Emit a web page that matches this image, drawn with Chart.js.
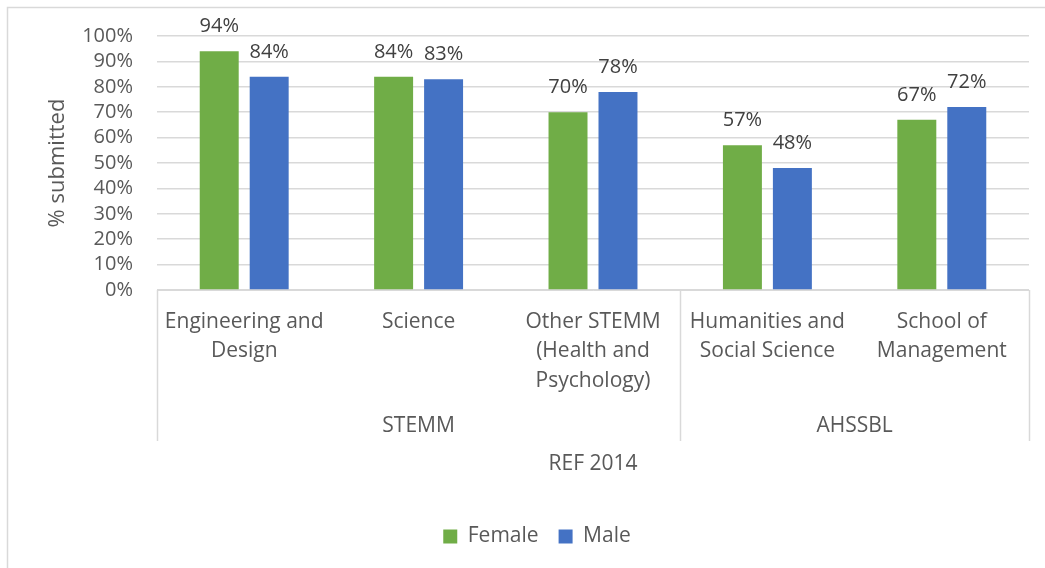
<!DOCTYPE html>
<html>
<head>
<meta charset="utf-8">
<script src="https://cdn.jsdelivr.net/npm/chart.js@4"></script>
<style>
  html, body { margin: 0; padding: 0; background: #fff; }
  #wrap { width: 1045px; height: 568px; position: relative; }
</style>
</head>
<body>
<div id="wrap"><canvas id="refChart" width="1045" height="568"></canvas></div>
<script>
// chart data
const categories = [
    ['Engineering and', 'Design'],
    ['Science'],
    ['Other STEMM', '(Health and', 'Psychology)'],
    ['Humanities and', 'Social Science'],
    ['School of', 'Management']
];
const groupNames = ['STEMM', 'AHSSBL'];
const groupSizes = [3, 2];
const female = [94, 84, 70, 57, 67];
const male = [84, 83, 78, 48, 72];
const yTicks = [0, 10, 20, 30, 40, 50, 60, 70, 80, 90, 100];

const FONT = '"Open Sans", "Noto Sans", sans-serif';
const PAD = { left: 45, top: 36, right: 16, bottom: 11 };

document.addEventListener('DOMContentLoaded', function() {
    const ctx = document.getElementById('refChart').getContext('2d');

    // outer frame of the chart
    const frame = {
        id: 'frame',
        beforeDraw(chart) {
            const c = chart.ctx;
            c.save();
            c.strokeStyle = '#d9d9d9';
            c.lineWidth = 1.5;
            c.strokeRect(7.5, 7.5, chart.width + 20, chart.height + 20);
            c.restore();
        }
    };

    // percent labels above the bars
    const valueLabels = {
        id: 'valueLabels',
        afterDatasetsDraw(chart) {
            const c = chart.ctx;
            c.save();
            c.font = '20px ' + FONT;
            c.fillStyle = '#404040';
            c.textAlign = 'center';
            c.textBaseline = 'alphabetic';
            chart.data.datasets.forEach((ds, i) => {
                chart.getDatasetMeta(i).data.forEach((bar, j) => {
                    c.fillText(ds.data[j] + '%', bar.x, bar.y - 19);
                });
            });
            c.restore();
        }
    };

    // two level category axis + axis title
    const groupAxis = {
        id: 'groupAxis',
        afterDraw(chart) {
            const c = chart.ctx;
            const x = chart.scales.x;
            const area = chart.chartArea;
            const lineBottom = 441;
            c.save();
            c.font = '21px ' + FONT;
            c.fillStyle = '#595959';
            c.textAlign = 'center';
            c.textBaseline = 'alphabetic';

            categories.forEach((lines, i) => {
                const cx = x.getPixelForValue(i);
                lines.forEach((txt, k) => {
                    c.fillText(txt, cx, area.bottom + 38 + k * 29.3);
                });
            });

            // group labels and separators
            c.strokeStyle = '#d9d9d9';
            c.lineWidth = 1.5;
            let start = 0;
            const edges = [area.left];
            groupNames.forEach((name, g) => {
                const end = start + groupSizes[g] - 1;
                const left = start === 0 ? area.left :
                    (x.getPixelForValue(start - 1) + x.getPixelForValue(start)) / 2;
                const right = end === categories.length - 1 ? area.right :
                    (x.getPixelForValue(end) + x.getPixelForValue(end + 1)) / 2;
                edges.push(right);
                c.fillText(name, (left + right) / 2, area.bottom + 142);
                start = end + 1;
            });
            edges.forEach(ex => {
                const px = Math.round(ex) + 0.5;
                c.beginPath();
                c.moveTo(px, area.bottom);
                c.lineTo(px, lineBottom);
                c.stroke();
            });

            c.fillText('REF 2014', (area.left + area.right) / 2, area.bottom + 180);
            c.restore();
        }
    };

    new Chart(ctx, {
        type: 'bar',
        data: {
            labels: categories,
            datasets: [
                { label: 'Female', data: female, backgroundColor: '#70AD47', borderWidth: 0 },
                { label: 'Male', data: male, backgroundColor: '#4472C4', borderWidth: 0 }
            ]
        },
        options: {
            responsive: false,
            animation: false,
            layout: { padding: PAD },
            datasets: {
                bar: { categoryPercentage: 0.573, barPercentage: 0.78 }
            },
            plugins: {
                tooltip: { enabled: false },
                legend: {
                    position: 'bottom',
                    labels: {
                        boxWidth: 14,
                        boxHeight: 14,
                        padding: 20,
                        color: '#595959',
                        font: { size: 21, family: FONT }
                    }
                }
            },
            scales: {
                x: {
                    grid: { display: false },
                    border: { display: true, color: '#d9d9d9' },
                    ticks: { display: false },
                    afterFit: function(scale) {
                        const lg = scale.chart.legend;
                        scale.height = 568 - 290 - PAD.bottom - (lg ? lg.height : 0);
                    }
                },
                y: {
                    min: 0,
                    max: 100,
                    afterBuildTicks: function(scale) {
                        scale.ticks = yTicks.map(v => ({ value: v }));
                    },
                    grid: { color: '#d9d9d9', lineWidth: 1.5, drawTicks: false },
                    border: { display: false },
                    ticks: {
                        autoSkip: false,
                        padding: 24,
                        color: '#595959',
                        font: { size: 20, family: FONT },
                        callback: function(value) {
                            return value + '%';
                        }
                    },
                    title: {
                        display: true,
                        text: '% submitted',
                        color: '#595959',
                        font: { size: 22, family: FONT },
                        padding: { top: 0, bottom: 0 }
                    },
                    afterFit: function(scale) {
                        scale.width = 157 - PAD.left;
                    }
                }
            }
        },
        plugins: [frame, valueLabels, groupAxis]
    });
});
</script>
</body>
</html>
